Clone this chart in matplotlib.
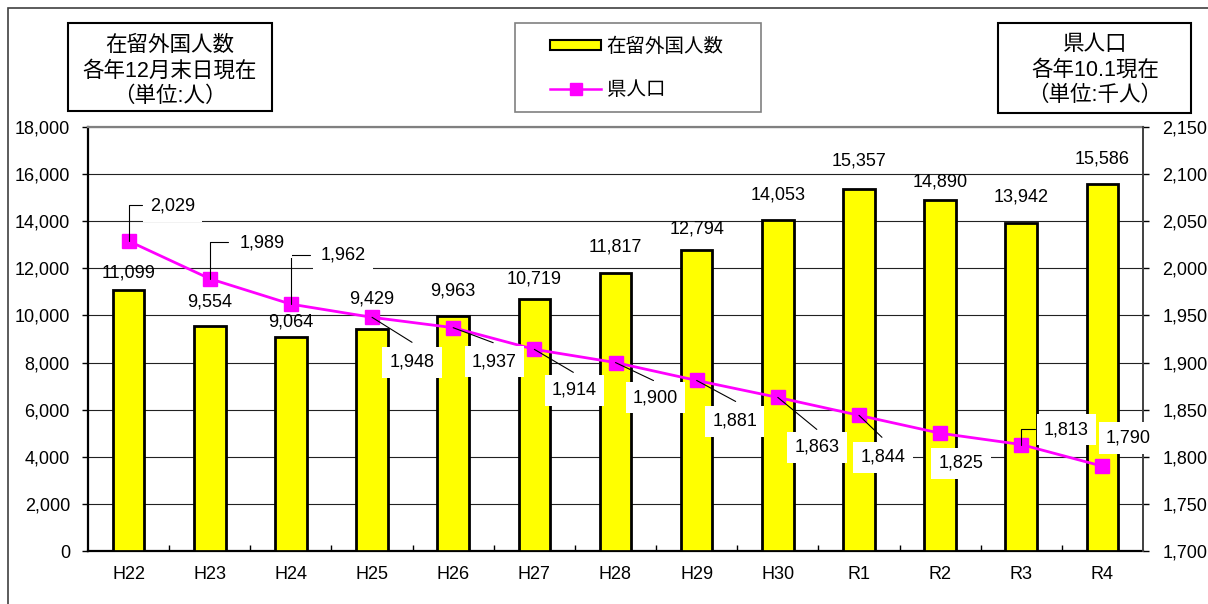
import numpy as np
import matplotlib
matplotlib.use('Agg')
import matplotlib.pyplot as plt
from matplotlib.patches import Rectangle, Patch
from matplotlib.lines import Line2D

# Liberation Sans for digits and latin, Noto CJK for the Japanese text
plt.rcParams['font.family'] = ['Liberation Sans', 'Noto Sans CJK JP']

# data
years = ['H22', 'H23', 'H24', 'H25', 'H26', 'H27', 'H28', 'H29', 'H30', 'R1', 'R2', 'R3', 'R4']
foreign_residents = [11099, 9554, 9064, 9429, 9963, 10719, 11817, 12794, 14053, 15357, 14890, 13942, 15586]
population = [2029, 1989, 1962, 1948, 1937, 1914, 1900, 1881, 1863, 1844, 1825, 1813, 1790]

# layout in pixels (figure is 1208x604 at 100 dpi)
W, H = 1208, 604
PT = 0.72  # points per pixel
NUM_SIZE = 13

# how far each bar label sits above its bar (px)
bar_label_dy = [17, 24, 15, 30, 25, 20, 26, 21, 25, 28, 18, 26, 25]
# population label offsets from marker (px, x right / y down)
pop_label_xy = [(44, -35), (52, -36), (52, -49), (40, 45), (41, 34), (40, 41), (40, 35),
                (38, 41), (39, 50), (24, 42), (21, 30), (45, -15), (26, -28)]
# leader line end points (px) and shape; None means no leader
pop_leader = [((13, -36), 'elbow'), ((18, -37), 'elbow'), ((19, -49), 'elbow'),
              ((40, 25), 'line'), ((40, 15), 'line'), ((39, 23), 'line'), ((38, 18), 'line'),
              ((39, 21), 'line'), ((39, 32), 'line'), ((23, 22), 'line'), None,
              ((14, -16), 'elbow'), None]


def fx(px):
    return px / W


def fy(py):
    return 1 - py / H


fig = plt.figure(figsize=(W / 100, H / 100), dpi=100)
ax = fig.add_axes([fx(88), fy(551), (1143 - 88) / W, (551 - 127) / H])
x = np.arange(len(years))

# bars: foreign residents (left axis)
ax.bar(x, foreign_residents, width=0.39, color='#FFFF00', edgecolor='black', linewidth=2.0, zorder=3)
ax.set_xlim(-0.5, len(years) - 0.5)
ax.set_ylim(0, 18000)
ax.set_yticks(range(0, 18001, 2000))
ax.set_yticklabels(['{:,}'.format(v) for v in range(0, 18001, 2000)])
ax.yaxis.grid(True, color='#222222', linewidth=0.8)
ax.set_axisbelow(True)
ax.set_xticks(x)
ax.set_xticklabels(years)
ax.set_xticks(np.arange(0.5, len(years) - 1, 1), minor=True)
ax.tick_params(axis='x', which='major', length=0, pad=11, labelsize=NUM_SIZE)
ax.tick_params(axis='x', which='minor', direction='in', length=4, width=1)
ax.tick_params(axis='y', direction='out', length=4, width=1, pad=9, labelsize=NUM_SIZE)
for s in ['left', 'bottom']:
    ax.spines[s].set_linewidth(1.6)
    ax.spines[s].set_color('black')
ax.spines['top'].set_color('#808080')
ax.spines['top'].set_linewidth(1.6)
ax.spines['right'].set_visible(False)

for i, v in enumerate(foreign_residents):
    ax.annotate('{:,}'.format(v), xy=(i, v), xytext=(0, bar_label_dy[i] * PT),
                textcoords='offset points', ha='center', va='center', fontsize=NUM_SIZE, zorder=4)

# line: prefectural population (right axis)
ax2 = ax.twinx()
ax2.plot(x, population, color='#FF00FF', linewidth=2.0, marker='s', markersize=9.5, zorder=3)
ax2.set_ylim(1700, 2150)
ax2.set_yticks(range(1700, 2151, 50))
ax2.set_yticklabels(['{:,}'.format(v) for v in range(1700, 2151, 50)])
ax2.tick_params(axis='y', direction='out', length=4, width=1, pad=10, labelsize=NUM_SIZE)
for s in ['left', 'top', 'bottom']:
    ax2.spines[s].set_visible(False)
ax2.spines['right'].set_color('#404040')
ax2.spines['right'].set_linewidth(1.4)

for i, v in enumerate(population):
    lead = pop_leader[i]
    if lead is not None:
        (lx, ly), kind = lead
        props = dict(arrowstyle='-', color='black', linewidth=0.8, shrinkA=0, shrinkB=0)
        if kind == 'elbow':
            props['connectionstyle'] = 'angle,angleA=0,angleB=90,rad=0'
        ax2.annotate('', xy=(i, v), xytext=(lx * PT, -ly * PT), textcoords='offset points',
                     arrowprops=props, zorder=5)
    tx, ty = pop_label_xy[i]
    ax2.annotate('{:,}'.format(v), xy=(i, v), xytext=(tx * PT, -ty * PT), textcoords='offset points',
                 ha='center', va='center', fontsize=NUM_SIZE, zorder=6,
                 bbox=dict(boxstyle='square,pad=0.4', facecolor='white', edgecolor='none'))

# title boxes and legend
fig.add_artist(Rectangle((fx(68), fy(111)), 204 / W, 88 / H, transform=fig.transFigure,
                         fill=False, edgecolor='black', linewidth=1.5))
fig.text(fx(170), fy(71), '在留外国人数\n各年12月末日現在\n（単位:人）', ha='center', va='center',
         fontsize=15.5, linespacing=1.3)
fig.add_artist(Rectangle((fx(998), fy(113)), 193 / W, 90 / H, transform=fig.transFigure,
                         fill=False, edgecolor='black', linewidth=1.5))
fig.text(fx(1095), fy(70), '県人口\n各年10.1現在\n（単位:千人）', ha='center', va='center',
         fontsize=15.5, linespacing=1.3)

fig.add_artist(Rectangle((fx(515), fy(112)), 246 / W, 89 / H, transform=fig.transFigure,
                         fill=False, edgecolor='#808080', linewidth=1.2))
handles = [Patch(facecolor='#FFFF00', edgecolor='black', linewidth=1.5),
           Line2D([], [], color='#FF00FF', linewidth=1.8, marker='s', markersize=9)]
fig.legend(handles, ['在留外国人数', '県人口'], loc='center', bbox_to_anchor=(fx(637), fy(68)),
           frameon=False, fontsize=14, handlelength=2.6, handleheight=0.4,
           handletextpad=0.3, labelspacing=1.3)

# outer chart border
fig.add_artist(Rectangle((fx(8), -0.1), 1.2, fy(8) + 0.1, transform=fig.transFigure,
                         fill=False, edgecolor='#404040', linewidth=1.2))

fig.savefig('out.png', dpi=100)
